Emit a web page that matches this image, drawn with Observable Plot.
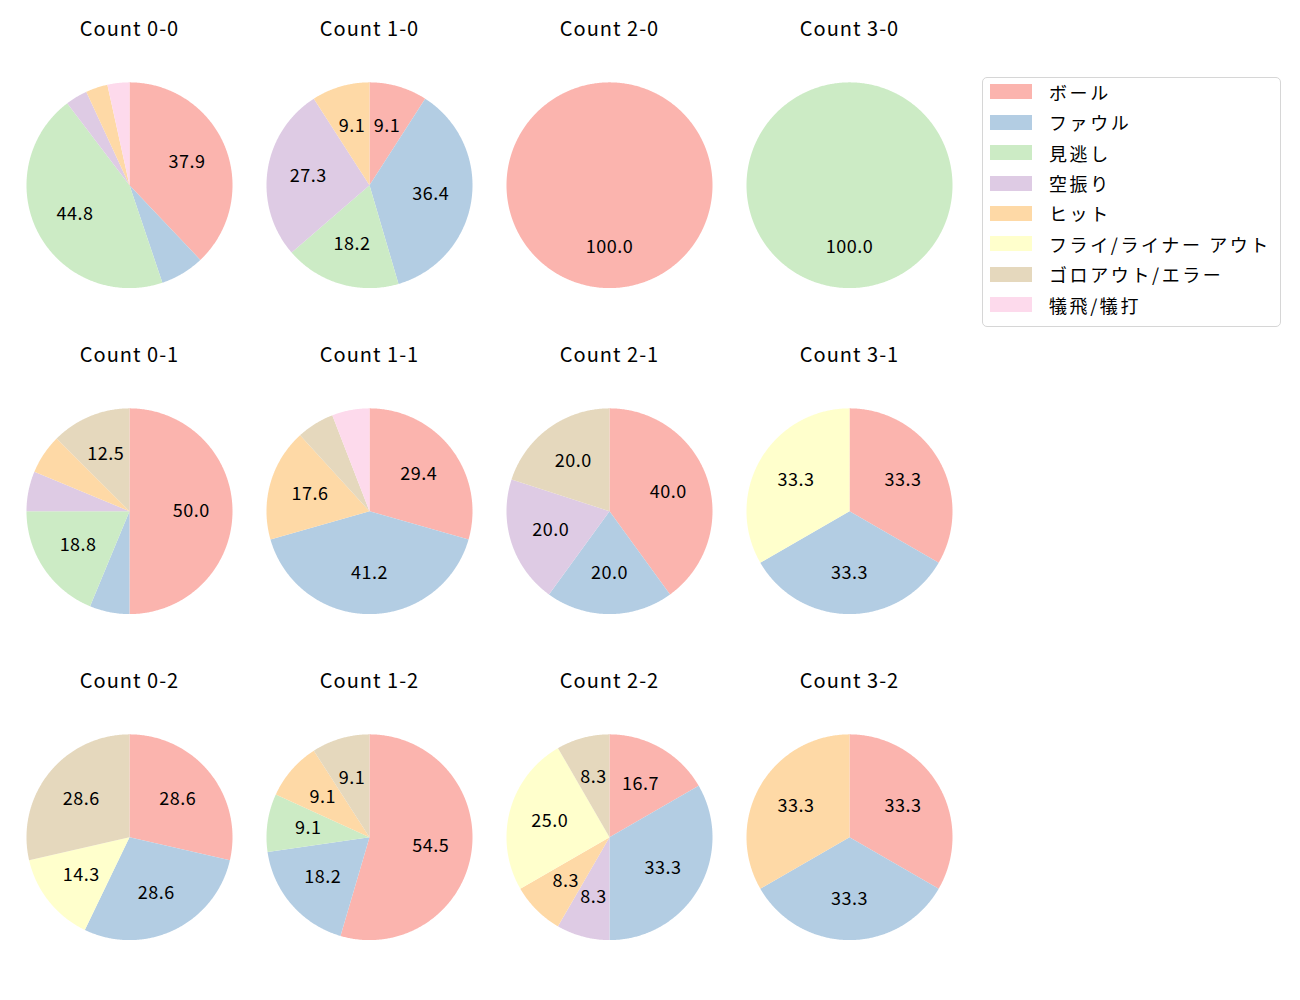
<!DOCTYPE html>
<html><head><meta charset="utf-8">
<script src="https://cdn.jsdelivr.net/npm/d3@7"></script>
<script src="https://cdn.jsdelivr.net/npm/@observablehq/plot@0.6"></script>
<style>
body{margin:0;background:#fff;font-family:"Noto Sans CJK JP",sans-serif;}
#wrap{position:relative;width:1300px;height:1000px;}
#legend{position:absolute;left:982px;top:77px;width:299px;height:250px;border:1px solid #d6d6d6;border-radius:5px;box-sizing:border-box;}
.row{position:absolute;left:7px;height:30px;display:flex;align-items:center;font-size:18px;letter-spacing:2.6px;color:#000;white-space:nowrap;}
.sw{width:42px;height:15px;margin-right:17px;}
#chart svg text.ttl{letter-spacing:1px;}
#chart svg text.lbl{letter-spacing:0.5px;}
</style></head>
<body><div id="wrap"><div id="chart"></div><div id="legend"></div></div>
<script>
const categories = ["ボール","ファウル","見逃し","空振り","ヒット","フライ/ライナー アウト","ゴロアウト/エラー","犠飛/犠打"];
const colors = ["#fbb4ae","#b3cde3","#ccebc5","#decbe4","#fed9a6","#ffffcc","#e5d8bd","#fddaec"];
const countLabels = ["0-0","1-0","2-0","3-0","0-1","1-1","2-1","3-1","0-2","1-2","2-2","3-2"];
// counts per outcome category (same order as categories)
const c00 = [11,2,13,1,1,0,0,1];
const c10 = [1,4,2,3,1,0,0,0];
const c20 = [1,0,0,0,0,0,0,0];
const c30 = [0,0,1,0,0,0,0,0];
const c01 = [8,1,3,1,1,0,2,0];
const c11 = [5,7,0,0,3,0,1,1];
const c21 = [2,1,0,1,0,0,1,0];
const c31 = [1,1,0,0,0,1,0,0];
const c02 = [2,2,0,0,0,1,2,0];
const c12 = [6,2,1,0,1,0,1,0];
const c22 = [2,4,0,1,1,3,1,0];
const c32 = [1,1,0,0,1,0,0,0];
const countValues = [c00,c10,c20,c30,c01,c11,c21,c31,c02,c12,c22,c32];

const R = 1, PCT = 0.6;
const slicePts = [], labels = [], titles = [];
countLabels.forEach((lab, k) => {
  const [b, s] = lab.split("-").map(Number);
  const vals = countValues[k];
  const total = d3.sum(vals);
  titles.push({b, s, text: "Count " + lab});
  const arcs = d3.pie().sort(null).startAngle(0).endAngle(2*Math.PI)(vals);
  arcs.forEach((a, i) => {
    if (a.value <= 0) return;
    const key = lab + ":" + i;
    const n = Math.max(2, Math.ceil((a.endAngle - a.startAngle) / (Math.PI/360)));
    slicePts.push({b, s, key, cat: categories[i], x: 0, y: 0});
    for (let j = 0; j <= n; j++) {
      const t = a.startAngle + (a.endAngle - a.startAngle) * j / n;
      slicePts.push({b, s, key, cat: categories[i], x: R*Math.sin(t), y: R*Math.cos(t)});
    }
    const pct = 100 * a.value / total;
    if (pct > 7) {
      const m = (a.startAngle + a.endAngle) / 2;
      labels.push({b, s, x: PCT*Math.sin(m), y: PCT*Math.cos(m), text: pct.toFixed(1)});
    }
  });
});

const chart = Plot.plot({
  width: 1300, height: 1000,
  marginTop: 14, marginBottom: 6.5, marginLeft: 9, marginRight: 331,
  style: {fontFamily: '"Noto Sans CJK JP", sans-serif', background: "white"},
  fx: {domain: [0,1,2,3], padding: 0, axis: null},
  fy: {domain: [0,1,2], padding: 0, axis: null},
  x: {domain: [-1.165, 1.165], axis: null},
  y: {domain: [-1.519, 1.650], axis: null},
  color: {domain: categories, range: colors},
  marks: [
    Plot.line(slicePts, {x: "x", y: "y", z: "key", fill: "cat", stroke: "none", fx: "b", fy: "s", curve: "linear"}),
    Plot.text(labels, {x: "x", y: "y", text: "text", fx: "b", fy: "s", fontSize: 18, fill: "black"}),
    Plot.text(titles, {x: () => 0, y: () => 1.515, text: "text", fx: "b", fy: "s", fontSize: 20, fill: "black"})
  ]
});
document.getElementById("chart").appendChild(chart);
d3.select(chart).selectAll("text").each(function() {
  const t = this.textContent;
  if (t.startsWith("Count")) this.classList.add("ttl");
  else this.classList.add("lbl");
});

const leg = document.getElementById("legend");
categories.forEach((c, i) => {
  const row = document.createElement("div");
  row.className = "row";
  row.style.top = (15.3 + i*30.4 - 15 - 1.5) + "px";
  const sw = document.createElement("div");
  sw.className = "sw"; sw.style.background = colors[i];
  const tx = document.createElement("span");
  tx.textContent = c;
  row.appendChild(sw); row.appendChild(tx);
  leg.appendChild(row);
});
</script></body></html>
